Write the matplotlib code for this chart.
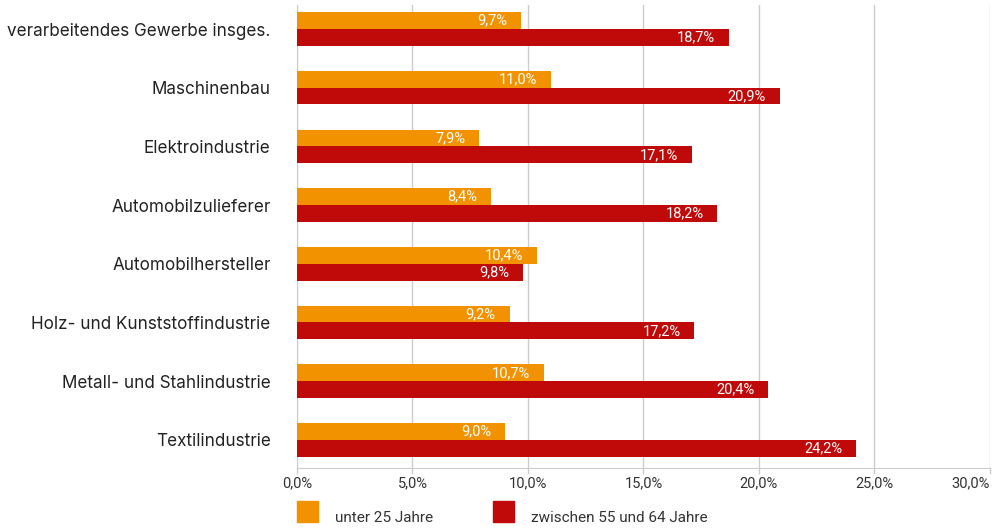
import matplotlib.pyplot as plt
from matplotlib.patches import Rectangle
import numpy as np

plt.rcParams['font.family'] = ['Roboto', 'DejaVu Sans']

categories = ["verarbeitendes Gewerbe insges.", "Maschinenbau", "Elektroindustrie",
              "Automobilzulieferer", "Automobilhersteller", "Holz- und Kunststoffindustrie",
              "Metall- und Stahlindustrie", "Textilindustrie"]
unter25 = [9.7, 11.0, 7.9, 8.4, 10.4, 9.2, 10.7, 9.0]
zw55_64 = [18.7, 20.9, 17.1, 18.2, 9.8, 17.2, 20.4, 24.2]
series_names = ["unter 25 Jahre", "zwischen 55 und 64 Jahre"]

orange = '#F39200'
red = '#C00A0A'
grid_c = '#CCCCCC'

fig = plt.figure(figsize=(10.01, 5.29), dpi=100)
ax = fig.add_axes([0.2967, 0.1153, 0.6923, 0.8752])

y = np.arange(len(categories))
h = 0.285
b1 = ax.barh(y - h / 2, unter25, height=h, color=orange, zorder=3)
b2 = ax.barh(y + h / 2, zw55_64, height=h, color=red, zorder=3)

def fmt(v):
    return f"{v:.1f}%".replace('.', ',')

for bars, vals in ((b1, unter25), (b2, zw55_64)):
    for bar, v in zip(bars, vals):
        ax.text(v - 0.6, bar.get_y() + bar.get_height() / 2, fmt(v),
                ha='right', va='center', color='white', fontsize=10.5, zorder=4)

ax.set_xlim(0, 30)
ax.set_ylim(7.48, -0.41)
ticks = np.arange(0, 31, 5)
ax.set_xticks(ticks)
ax.set_xticklabels([fmt(t) for t in ticks], fontsize=10.5, color='#333333')
ax.get_xticklabels()[-1].set_ha('right')
ax.set_yticks(y)
ax.set_yticklabels(categories, fontsize=12.3, color='#222222', family=['Inter', 'DejaVu Sans'])
ax.tick_params(axis='y', length=0, pad=19)
ax.tick_params(axis='x', length=4, color=grid_c, width=1, pad=2)
ax.grid(axis='x', color=grid_c, linewidth=1, zorder=0)
for s in ['top', 'right']:
    ax.spines[s].set_visible(False)
ax.spines['left'].set_color(grid_c)
ax.spines['bottom'].set_color(grid_c)

# legend
for xpos, col, name in ((0.2967, orange, series_names[0]), (0.4925, red, series_names[1])):
    fig.add_artist(Rectangle((xpos, 0.013), 0.021, 0.040, transform=fig.transFigure,
                             color=col))
    fig.text(xpos + 0.038, 0.02, name, fontsize=11, color='#333333', va='center')

fig.savefig('out.png', dpi=100)
